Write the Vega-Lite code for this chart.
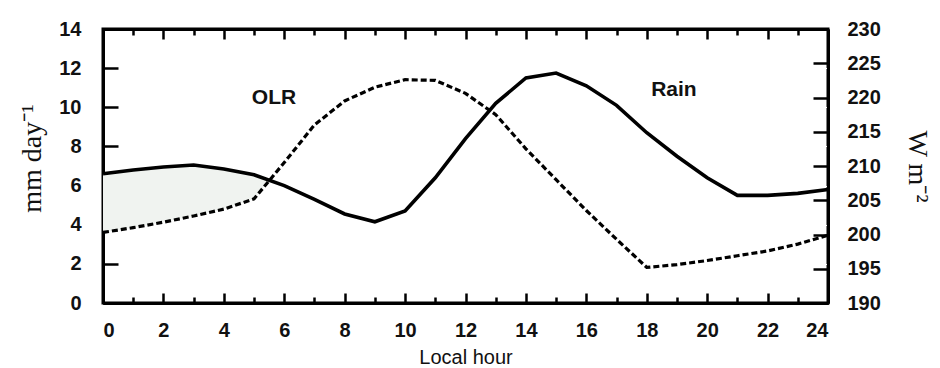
{
  "$schema": "https://vega.github.io/schema/vega-lite/v6.json",
  "width": 725,
  "height": 274,
  "autosize": {"type": "none"},
  "padding": {"left": 103, "top": 29, "right": 112, "bottom": 65},
  "config": {
    "view": {"stroke": "black", "strokeWidth": 3}
  },
  "datasets": {
    "rain": [
      {"hour": 0, "rain": 6.6}, {"hour": 1, "rain": 6.8}, {"hour": 2, "rain": 6.95},
      {"hour": 3, "rain": 7.05}, {"hour": 4, "rain": 6.85}, {"hour": 5, "rain": 6.55},
      {"hour": 6, "rain": 6.0}, {"hour": 7, "rain": 5.3}, {"hour": 8, "rain": 4.55},
      {"hour": 9, "rain": 4.15}, {"hour": 10, "rain": 4.7}, {"hour": 11, "rain": 6.4},
      {"hour": 12, "rain": 8.4}, {"hour": 13, "rain": 10.2}, {"hour": 14, "rain": 11.5},
      {"hour": 15, "rain": 11.75}, {"hour": 16, "rain": 11.1}, {"hour": 17, "rain": 10.1},
      {"hour": 18, "rain": 8.7}, {"hour": 19, "rain": 7.5}, {"hour": 20, "rain": 6.4},
      {"hour": 21, "rain": 5.5}, {"hour": 22, "rain": 5.5}, {"hour": 23, "rain": 5.6},
      {"hour": 24, "rain": 5.8}
    ],
    "olr": [
      {"hour": 0, "olr": 200.3}, {"hour": 1, "olr": 201.0}, {"hour": 2, "olr": 201.8},
      {"hour": 3, "olr": 202.7}, {"hour": 4, "olr": 203.7}, {"hour": 5, "olr": 205.2},
      {"hour": 6, "olr": 210.5}, {"hour": 7, "olr": 216.0}, {"hour": 8, "olr": 219.5},
      {"hour": 9, "olr": 221.5}, {"hour": 10, "olr": 222.6}, {"hour": 11, "olr": 222.5},
      {"hour": 12, "olr": 220.6}, {"hour": 13, "olr": 217.5}, {"hour": 14, "olr": 212.5},
      {"hour": 15, "olr": 208.0}, {"hour": 16, "olr": 203.5}, {"hour": 17, "olr": 199.3},
      {"hour": 18, "olr": 195.2}, {"hour": 19, "olr": 195.6}, {"hour": 20, "olr": 196.2},
      {"hour": 21, "olr": 196.9}, {"hour": 22, "olr": 197.6}, {"hour": 23, "olr": 198.6},
      {"hour": 24, "olr": 199.9}
    ],
    "shade": [
      {"hour": 0, "low": 3.6, "high": 6.6}, {"hour": 1, "low": 3.85, "high": 6.8},
      {"hour": 2, "low": 4.13, "high": 6.95}, {"hour": 3, "low": 4.45, "high": 7.05},
      {"hour": 4, "low": 4.8, "high": 6.85}, {"hour": 5, "low": 5.32, "high": 6.55},
      {"hour": 5.5, "low": 6.28, "high": 6.28}
    ],
    "labels": [
      {"hour": 5.66, "value": 10.5, "text": "OLR"},
      {"hour": 18.9, "value": 10.9, "text": "Rain"}
    ]
  },
  "layer": [
    {
      "layer": [
        {
          "data": {"name": "shade"},
          "mark": {"type": "area", "color": "#f0f3f0"},
          "encoding": {
            "x": {"field": "hour", "type": "quantitative", "scale": {"domain": [0, 24], "nice": false},
              "axis": {"orient": "bottom", "values": [0,2,4,6,8,10,12,14,16,18,20,22,24], "tickCount": 40, "format": "d", "tickSize": -10, "tickColor": "black", "tickWidth": 2.5,
                "gridColor": "white", "domainColor": "black", "domainWidth": 3, "labelOverlap": false, "labelPadding": 27,
                "labelFont": "Liberation Sans", "labelFontWeight": "bold", "labelFontSize": 20, "labelColor": "#111",
                "title": "Local hour", "titleFont": "Liberation Sans", "titleFontSize": 20, "titleFontWeight": "normal", "titleColor": "#111", "titlePadding": 7}},
            "y": {"field": "low", "type": "quantitative", "scale": {"domain": [0, 14], "nice": false},
              "axis": {"orient": "left", "values": [0,2,4,6,8,10,12,14], "tickCount": 40, "format": "d", "tickSize": -15, "tickColor": "black", "tickWidth": 2.5,
                "gridColor": "white", "domainColor": "black", "domainWidth": 3, "labelOverlap": false, "labelPadding": 37,
                "labelFont": "Liberation Sans", "labelFontWeight": "bold", "labelFontSize": 20, "labelColor": "#111",
                "title": "mm day⁻¹", "titleFont": "Liberation Serif", "titleFontSize": 28, "titleFontWeight": "normal", "titleColor": "#111", "titlePadding": 12, "titleY": 129}},
            "y2": {"field": "high"}
          }
        },
        {
          "data": {"name": "rain"},
          "mark": {"type": "line", "color": "black", "strokeWidth": 3.6},
          "encoding": {
            "x": {"field": "hour", "type": "quantitative",
              "axis": {"orient": "bottom", "values": [1,3,5,7,9,11,13,15,17,19,21,23], "tickCount": 40, "tickSize": -6, "tickColor": "black", "tickWidth": 2.5,
                "gridColor": "white", "domainColor": "black", "domainWidth": 3, "labels": false, "title": null}},
            "y": {"field": "rain", "type": "quantitative"}
          }
        },
        {
          "data": {"name": "labels"},
          "mark": {"type": "text", "font": "Liberation Sans", "fontWeight": "bold", "fontSize": 21, "color": "#111"},
          "encoding": {
            "x": {"field": "hour", "type": "quantitative",
              "axis": {"orient": "top", "values": [0,2,4,6,8,10,12,14,16,18,20,22,24], "tickCount": 40, "tickSize": -10, "tickColor": "black", "tickWidth": 2.5,
                "gridColor": "white", "domainColor": "black", "domainWidth": 3, "labels": false, "title": null}},
            "y": {"field": "value", "type": "quantitative"},
            "text": {"field": "text"}
          }
        }
      ],
      "resolve": {"axis": {"x": "independent"}}
    },
    {
      "data": {"name": "olr"},
      "mark": {"type": "line", "color": "black", "strokeWidth": 3.2, "strokeDash": [6, 3]},
      "encoding": {
        "x": {"field": "hour", "type": "quantitative",
          "axis": {"orient": "top", "values": [1,3,5,7,9,11,13,15,17,19,21,23], "tickCount": 40, "tickSize": -6, "tickColor": "black", "tickWidth": 2.5,
            "gridColor": "white", "domainColor": "black", "domainWidth": 3, "labels": false, "title": null}},
        "y": {"field": "olr", "type": "quantitative", "scale": {"domain": [190, 230], "nice": false},
          "axis": {"orient": "right", "values": [190,195,200,205,210,215,220,225,230], "tickCount": 40, "format": "d", "tickSize": -15, "tickColor": "black", "tickWidth": 2.5,
            "gridColor": "white", "domainColor": "black", "domainWidth": 3, "labelOverlap": false, "labelPadding": 34,
            "labelFont": "Liberation Sans", "labelFontWeight": "bold", "labelFontSize": 20, "labelColor": "#111",
            "title": "W m⁻²", "titleFont": "Liberation Serif", "titleFontSize": 28, "titleFontWeight": "normal", "titleColor": "#111", "titlePadding": 22}}
      }
    }
  ],
  "resolve": {"scale": {"y": "independent"}, "axis": {"x": "independent"}}
}
